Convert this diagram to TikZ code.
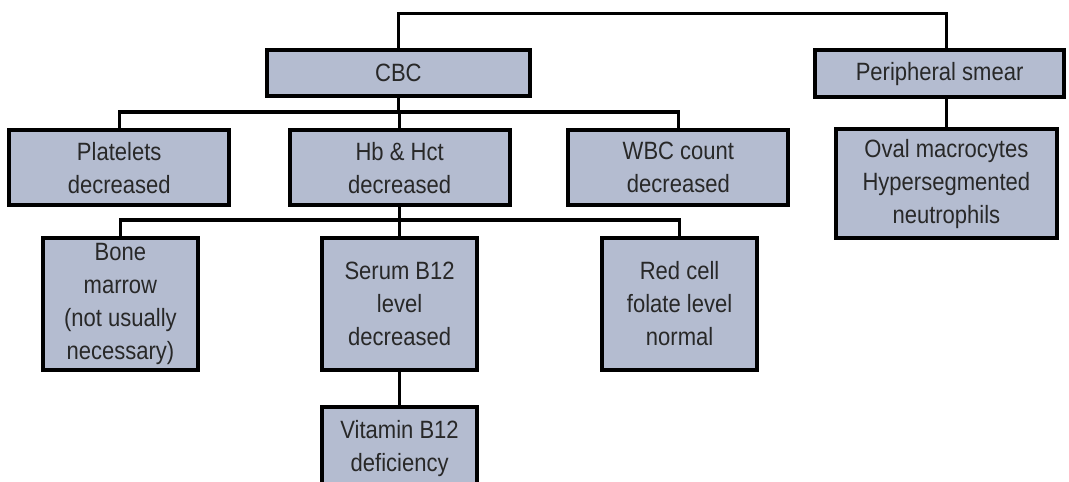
\documentclass[tikz,border=0pt]{standalone}
\usepackage{fontspec}
\setmainfont{Liberation Sans}[FakeStretch=0.88]
\usetikzlibrary{positioning}
\definecolor{boxfill}{RGB}{180,188,208}
\definecolor{boxtext}{RGB}{40,40,40}

\begin{document}
\begin{tikzpicture}[font=\fontsize{17.8}{23.5}\selectfont,
  box/.style={rectangle, draw=black, line width=2.8pt, fill=boxfill, text=boxtext,
    align=center, inner sep=2pt, outer sep=0pt},
  wide/.style={box, minimum width=5.5cm, minimum height=1.88cm},
  tall/.style={box, minimum width=3.88cm, minimum height=3.3cm},
  link/.style={draw=black, line width=2.3pt}]
\useasboundingbox (0,0) rectangle (26.725,-12.05);
% top row
\node[box, minimum width=6.58cm, minimum height=1.15cm] (cbc) at (9.96,-1.83) {CBC};
\node[box, minimum width=6.23cm, minimum height=1.17cm] (smear) at (23.49,-1.84) {Peripheral smear};
% second row
\node[wide] (plt) at (2.98,-4.19) {Platelets\\decreased};
\node[wide] (hb) at (9.99,-4.19) {Hb \& Hct\\decreased};
\node[wide] (wbc) at (16.96,-4.19) {WBC count\\decreased};
\node[box, minimum width=5.53cm, minimum height=2.73cm] (oval) at (23.66,-4.59)
  {Oval macrocytes\\Hypersegmented\\neutrophils};
% third row
\node[tall] (bone) at (3.01,-7.61) {Bone\\marrow\\(not usually\\necessary)};
\node[tall] (serum) at (9.99,-7.60) {Serum B12\\level\\decreased};
\node[tall] (red) at (16.99,-7.60) {Red cell\\folate level\\normal};
% runs off the bottom edge
\node[box, minimum width=3.88cm, minimum height=2.1cm] (vit) at (9.99,-11.22) {Vitamin B12\\deficiency};
% bus lines
\coordinate (top) at (0,-0.33);
\coordinate (bus1) at (0,-2.8);
\coordinate (bus2) at (0,-5.5);
\draw[link] (cbc.north) |- (oval.north |- top) -- (oval.north |- smear.north);
\draw[link] (oval.north |- smear.south) -- (oval.north);
\draw[link] (cbc.south) -- (cbc.south |- bus1);
\draw[link] (plt.north) |- (wbc.north |- bus1) -- (wbc.north);
\draw[link] (hb.north |- bus1) -- (hb.north);
\draw[link] (hb.south) -- (hb.south |- bus2);
\draw[link] (bone.north) |- (red.north |- bus2) -- (red.north);
\draw[link] (serum.north |- bus2) -- (serum.north);
\draw[link] (serum.south) -- (vit.north);
\end{tikzpicture}
\end{document}
